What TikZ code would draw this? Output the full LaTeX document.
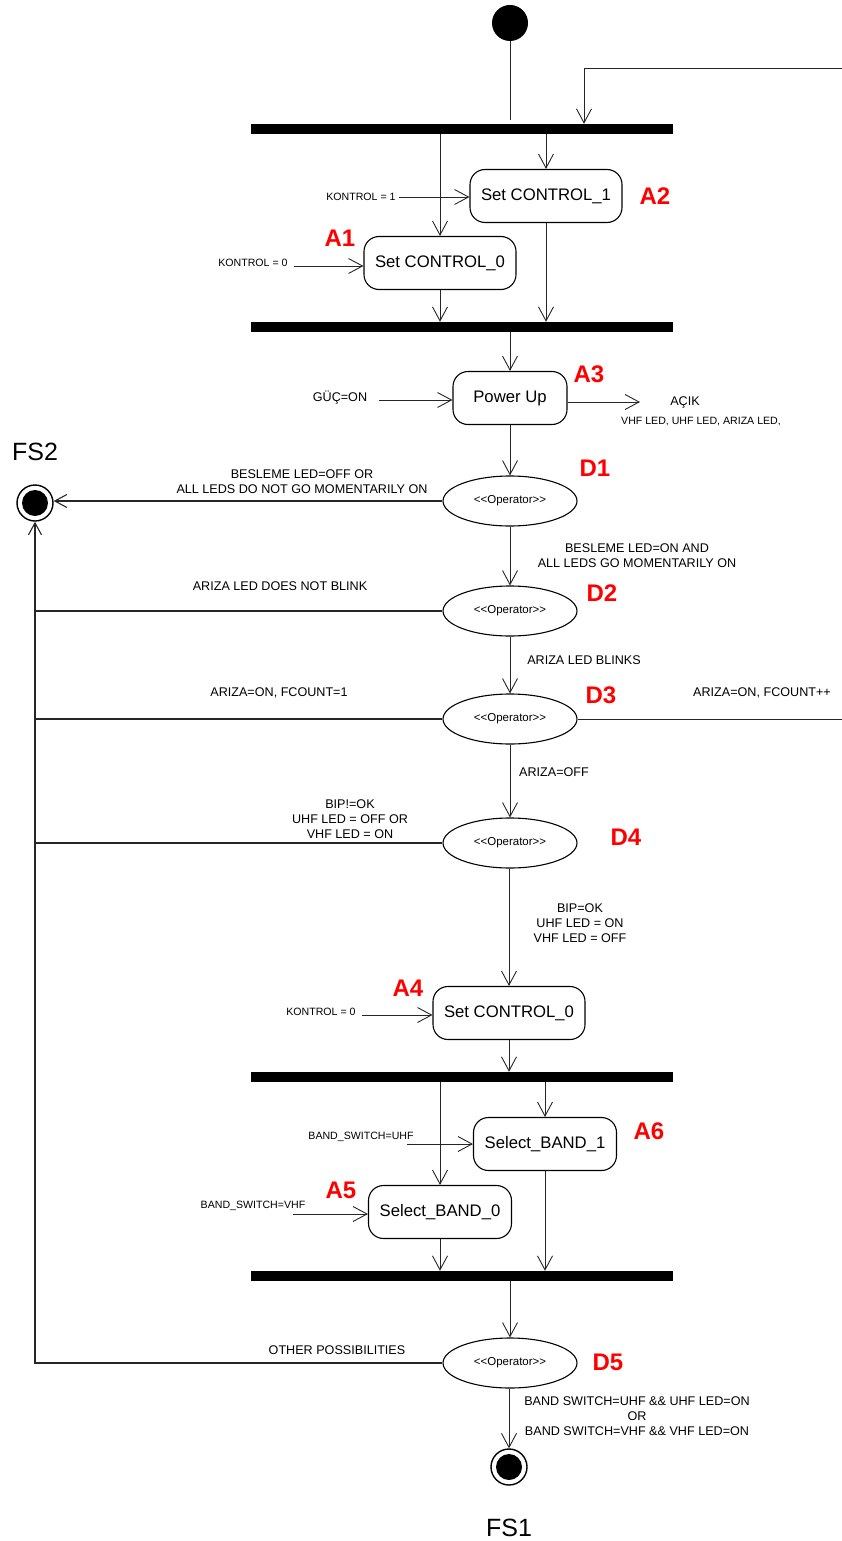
\documentclass[tikz,border=0pt]{standalone}
\usepackage{fontspec}
\setmainfont{Liberation Sans}
\usetikzlibrary{arrows.meta,shapes.geometric,calc}

\tikzset{
  conn/.style={line width=0.9pt, draw=black!85},
  arr/.style={conn, -{Straight Barb[length=14pt,width=15pt,line width=0.9pt]}},
  fail/.style={line width=1.3pt, draw=black!85},
  failarr/.style={fail, -{Straight Barb[length=12pt,width=13pt,line width=1.1pt]}},
  bar/.style={fill=black, minimum width=422pt, minimum height=10pt, inner sep=0pt},
  act/.style={draw, line width=1.1pt, rounded corners=15pt, minimum height=53pt,
    inner sep=0pt, font=\fontsize{16.7}{20}\selectfont},
  dec/.style={draw, ellipse, line width=1.1pt, minimum width=134pt, minimum height=50pt,
    inner sep=0pt, font=\fontsize{11.5}{14}\selectfont},
  tag/.style={text=red, inner sep=0pt, font=\bfseries\fontsize{24}{28}\selectfont},
  cond/.style={align=center, inner sep=0pt, font=\fontsize{12.6}{15.3}\selectfont},
  small/.style={inner sep=0pt, font=\fontsize{10.6}{12}\selectfont},
  big/.style={inner sep=0pt, font=\fontsize{25}{30}\selectfont},
  startstate/.style={circle, fill=black, minimum size=36pt, inner sep=0pt},
  endstate/.style={circle, draw, line width=1.4pt, minimum size=36pt, inner sep=0pt,
    path picture={\fill[black] (path picture bounding box.center) circle (13pt);}},
}
\newcommand{\oper}{<\kern0pt<Operator>\kern0pt>}

\begin{document}
\begin{tikzpicture}[x=1pt,y=-1pt]
\useasboundingbox (0,0) rectangle (842,1541);

% ---- nodes ----
\node[startstate] (init) at (510,23) {};
\node[bar] (b1) at (462,129) {};
\node[act, minimum width=152pt] (a2) at (546,196) {Set CONTROL\_1};
\node[act, minimum width=152pt] (a1) at (440,263) {Set CONTROL\_0};
\node[bar] (b2) at (462,327) {};
\node[act, minimum width=114pt] (pu) at (510,398) {Power Up};
\node[dec] (d1) at (510,501) {\oper};
\node[dec] (d2) at (510,611) {\oper};
\node[dec] (d3) at (510,719) {\oper};
\node[dec] (d4) at (510,843) {\oper};
\node[act, minimum width=152pt] (a4) at (509,1013) {Set CONTROL\_0};
\node[bar] (b3) at (462,1077) {};
\node[act, minimum width=143pt] (a6) at (545,1144) {Select\_BAND\_1};
\node[act, minimum width=143pt] (a5) at (440,1212) {Select\_BAND\_0};
\node[bar] (b4) at (462,1276) {};
\node[dec] (d5) at (510,1363) {\oper};
\node[endstate] (fs1) at (509,1467) {};
\node[endstate] (fs2) at (35,503) {};

% ---- tags ----
\node[tag] at (340,238) {A1};
\node[tag] at (655,196) {A2};
\node[tag] at (589,374) {A3};
\node[tag] at (595,468) {D1};
\node[tag] at (602,593) {D2};
\node[tag] at (601,695) {D3};
\node[tag] at (626,837) {D4};
\node[tag] at (408,988) {A4};
\node[tag] at (649,1131) {A6};
\node[tag] at (341,1190) {A5};
\node[tag] at (608,1362) {D5};
\node[big] at (35,452) {FS2};
\node[big] at (509,1528) {FS1};

% ---- input / output labels ----
\node[small] (k1) at (361,197) {KONTROL = 1};
\node[small] (k0) at (253,263) {KONTROL = 0};
\node[cond] (guc) at (340,398) {GÜÇ=ON};
\node[cond] (acik) at (685,402) {AÇIK};
\node[small] (leds) at (701,422) {VHF LED, UHF LED, ARIZA LED,};
\node[small] (k4) at (321,1012) {KONTROL = 0};
\node[small] (bsu) at (361,1137) {BAND\_SWITCH=UHF};
\node[small] (bsv) at (253,1206) {BAND\_SWITCH=VHF};

\coordinate (k1s) at (399,197);
\coordinate (k0s) at (294,266);
\coordinate (gucs) at (379,400);
\coordinate (pue) at (640,402);
\coordinate (k4s) at (362,1015);
\coordinate (bsus) at (407,1144);
\coordinate (bsvs) at (293,1214);
\coordinate (loopR) at (842,68);
\coordinate (loopX) at (584,68);
\coordinate (d3R) at (842,719);

% ---- condition labels ----
\node[cond] at (302,482) {BESLEME LED=OFF OR\\ALL LEDS DO NOT GO MOMENTARILY ON};
\node[cond] at (637,556) {BESLEME LED=ON AND\\ALL LEDS GO MOMENTARILY ON};
\node[cond] at (280,586) {ARIZA LED DOES NOT BLINK};
\node[cond] at (584,660) {ARIZA LED BLINKS};
\node[cond] at (279,693) {ARIZA=ON, FCOUNT=1};
\node[cond] at (762,693) {ARIZA=ON, FCOUNT++};
\node[cond] at (554,772) {ARIZA=OFF};
\node[cond] at (350,819) {BIP!=OK\\UHF LED = OFF OR\\VHF LED = ON};
\node[cond] at (580,923) {BIP=OK\\UHF LED = ON\\VHF LED = OFF};
\node[cond] at (337,1350) {OTHER POSSIBILITIES};
\node[cond] at (637,1416) {BAND SWITCH=UHF \&\& UHF LED=ON\\OR\\BAND SWITCH=VHF \&\& VHF LED=ON};

% ---- connectors: first fork ----
\draw[conn] (init.south) -- ($(init |- b1.north)+(0,-4)$);
\draw[arr] (loopR) -- (loopX) -- (loopX |- b1.north);
\draw[arr] (b1.south -| a2) -- (a2.north);
\draw[arr] (b1.south -| a1) -- (a1.north);
\draw[arr] (k1s) -- (k1s -| a2.west);
\draw[arr] (k0s) -- (k0s -| a1.west);
\draw[arr] (a1.south) -- (a1 |- b2.north);
\draw[arr] (a2.south) -- (a2 |- b2.north);

% ---- power up and checks ----
\draw[arr] (b2.south -| pu) -- (pu.north);
\draw[arr] (gucs) -- (gucs -| pu.west);
\draw[arr] (pu.east |- pue) -- (pue);
\draw[arr] (pu.south) -- (d1.north);
\draw[arr] (d1.south) -- (d2.north);
\draw[arr] (d2.south) -- (d3.north);
\draw[arr] (d3.south) -- (d4.north);
\draw[arr] (d4.south -| a4) -- (a4.north);
\draw[arr] (k4s) -- (k4s -| a4.west);
\draw[conn] (d3.east) -- (d3R);

% ---- second fork ----
\draw[arr] (a4.south) -- (a4 |- b3.north);
\draw[arr] (b3.south -| a6) -- (a6.north);
\draw[arr] (b3.south -| a5) -- (a5.north);
\draw[arr] (bsus) -- (bsus -| a6.west);
\draw[arr] (bsvs) -- (bsvs -| a5.west);
\draw[arr] (a5.south) -- (a5 |- b4.north);
\draw[arr] (a6.south) -- (a6 |- b4.north);
\draw[arr] (b4.south -| d5) -- (d5.north);
\draw[arr] (d5.south -| fs1) -- (fs1.north);

% ---- failure paths ----
\draw[failarr] (d1.west) -- (d1.west -| fs2.east);
\draw[fail] (d2.west) -- (d2.west -| fs2);
\draw[fail] (d3.west) -- (d3.west -| fs2);
\draw[fail] (d4.west) -- (d4.west -| fs2);
\draw[failarr] (d5.west) -| (fs2.south);
\end{tikzpicture}
\end{document}
